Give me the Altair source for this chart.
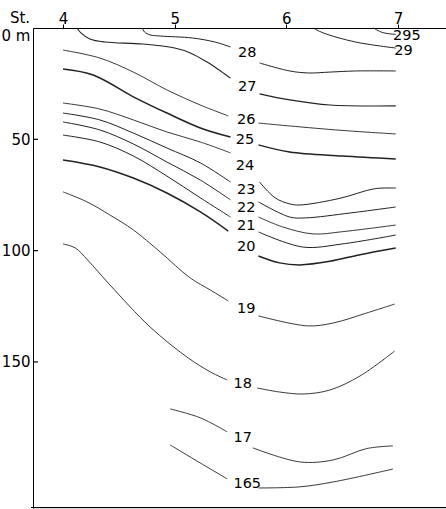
import altair as alt
import pandas as pd

# Station positions (top axis) and depth ticks (m)
stations = [4, 5, 6, 7]
depth_ticks = [0, 50, 100, 150]
inner_ticks = [50, 100, 150]

# Isotherm segments as (station, depth[m])
c295 = [(6.78, 0), (6.86, 2.0), (6.98, 2.9)]
c29 = [(6.24, 0), (6.33, 2.2), (6.62, 6.3), (6.98, 9.0)]
c28a = [(4.71, 0), (4.73, 1.8), (4.78, 3.1), (4.87, 3.6), (5.16, 4.5), (5.36, 6.3), (5.50, 8.5)]
c28b = [(5.76, 15.7), (6.03, 19.3), (6.20, 20.2), (6.39, 19.8), (6.62, 19.3), (6.98, 19.3)]
c27a = [(4.125, 0), (4.16, 2.2), (4.24, 4.9), (4.375, 6.3), (4.715, 7.2), (5.0, 9.0),
        (5.14, 11.2), (5.29, 15.3), (5.41, 19.3), (5.50, 22.5)]
c27b = [(5.76, 29.6), (6.03, 32.3), (6.39, 34.6), (6.98, 35.0)]
c26a = [(4.0, 9.9), (4.33, 13.5), (4.63, 19.8), (4.93, 27.8), (5.23, 34.6), (5.48, 39.5)]
c26b = [(5.75, 42.7), (6.03, 44.0), (6.5, 46.0), (6.98, 47.6)]
c25a = [(4.0, 18.4), (4.27, 21.1), (4.63, 30.9), (4.93, 38.2), (5.23, 44.9), (5.50, 49.0)]
c25b = [(5.75, 52.5), (6.03, 55.7), (6.5, 57.5), (6.98, 58.8)]
c24a = [(4.0, 33.7), (4.33, 36.4), (4.63, 41.3), (4.93, 46.7), (5.23, 51.2), (5.50, 56.1)]
c24b = [(5.76, 69.2), (5.90, 76.3), (6.03, 79.0), (6.12, 79.5), (6.48, 76.5), (6.79, 72.2), (6.98, 71.9)]
c23a = [(4.0, 38.2), (4.33, 41.3), (4.63, 47.2), (4.93, 53.9), (5.23, 60.6), (5.50, 69.2)]
c23b = [(5.75, 78.1), (6.03, 84.9), (6.17, 85.3), (6.57, 83.1), (6.98, 80.4)]
c22a = [(4.0, 42.2), (4.33, 45.8), (4.63, 52.1), (4.93, 60.2), (5.23, 68.3), (5.50, 77.2)]
c22b = [(5.75, 84.9), (5.97, 89.4), (6.24, 92.5), (6.5, 91.5), (6.98, 88.5)]
c21a = [(4.0, 48.1), (4.33, 51.2), (4.63, 57.5), (4.93, 66.5), (5.23, 76.3), (5.50, 84.9)]
c21b = [(5.75, 91.6), (6.15, 98.4), (6.5, 97.0), (6.98, 93.0)]
c20a = [(4.0, 59.3), (4.33, 62.4), (4.63, 67.4), (4.93, 74.1), (5.23, 82.6), (5.48, 91.2)]
c20b = [(5.75, 102.4), (5.94, 105.5), (6.12, 106.4), (6.39, 104.8), (6.66, 101.8), (6.98, 98.8)]
c19a = [(4.0, 73.6), (4.215, 78.1), (4.42, 84.0), (4.63, 90.7), (4.87, 100.6), (5.14, 112.3),
        (5.32, 117.7), (5.48, 122.6)]
c19b = [(5.75, 129.3), (6.19, 133.8), (6.42, 132.5), (6.72, 128.0), (6.97, 124.0)]
c18a = [(4.0, 97.0), (4.11, 98.8), (4.22, 104.2), (4.42, 115.4), (4.78, 134.3), (5.11, 147.8),
        (5.32, 154.5), (5.47, 158.1)]
c18b = [(5.74, 161.7), (5.94, 163.5), (6.15, 164.4), (6.39, 162.6), (6.66, 156.3), (6.97, 145.1)]
c17a = [(4.96, 171.1), (5.23, 175.1), (5.47, 181.4)]
c17b = [(5.70, 188.6), (6.12, 194.9), (6.42, 194.0), (6.72, 188.9), (6.955, 187.7)]
c165a = [(4.96, 187.3), (5.23, 195.4), (5.47, 202.5)]
c165b = [(5.75, 206.6), (6.12, 206.1), (6.42, 203.9), (6.955, 198.1)]

segments = [
    ("295", c295, 1.0), ("29", c29, 1.0), ("28a", c28a, 1.0), ("28b", c28b, 1.0),
    ("27a", c27a, 1.1), ("27b", c27b, 1.1), ("26a", c26a, 0.9), ("26b", c26b, 0.9),
    ("25a", c25a, 1.5), ("25b", c25b, 1.5), ("24a", c24a, 0.9), ("24b", c24b, 1.0),
    ("23a", c23a, 1.0), ("23b", c23b, 1.0), ("22a", c22a, 1.0), ("22b", c22b, 0.9),
    ("21a", c21a, 1.0), ("21b", c21b, 1.0), ("20a", c20a, 1.5), ("20b", c20b, 1.5),
    ("19a", c19a, 0.9), ("19b", c19b, 0.9), ("18a", c18a, 0.9), ("18b", c18b, 0.9),
    ("17a", c17a, 0.9), ("17b", c17b, 0.9), ("165a", c165a, 0.9), ("165b", c165b, 0.9),
]

# Contour labels
label_text = ["295", "29", "28", "27", "26", "25", "24", "23", "22", "21", "20", "19", "18", "17", "165"]
label_st = [7.08, 7.05, 5.65, 5.65, 5.64, 5.63, 5.63, 5.64, 5.64, 5.64, 5.64, 5.64, 5.61, 5.61, 5.65]
label_d = [3.6, 10.3, 11.2, 26.5, 41.3, 50.3, 62.0, 72.8, 80.8, 88.9, 98.4, 126.2, 159.9, 184.1, 204.8]

rows = []
for name, pts, w in segments:
    for i, (s, d) in enumerate(pts):
        rows.append({"seg": name, "i": i, "st": s, "d": d, "w": w})
lines_df = pd.DataFrame(rows)
labels_df = pd.DataFrame({"t": label_text, "st": label_st, "d": label_d})
ticks_df = pd.DataFrame({"d": inner_ticks})

FONT = "DejaVu Sans"

xs = alt.Scale(domain=[3.731, 7.43], nice=False, zero=False)
ys = alt.Scale(domain=[0, 215.6], nice=False, zero=False, reverse=True)

x_axis = alt.Axis(
    orient="top", values=stations, tickSize=4, labelPadding=-2, title=None, grid=False,
    domainColor="black", tickColor="black", labelColor="black", labelFont=FONT,
    labelFontSize=15, labelAngle=0, format="d")
y_axis = alt.Axis(
    orient="left", values=depth_ticks, ticks=False, labelPadding=3, title=None, grid=False,
    domainColor="black", labelColor="black", labelFont=FONT, labelFontSize=15,
    labelFlush=True, labelExpr="datum.value == 0 ? '0 m' : datum.label")

X = alt.X("st:Q", scale=xs, axis=x_axis)
Y = alt.Y("d:Q", scale=ys, axis=y_axis)

lines = alt.Chart(lines_df).mark_line(interpolate="catmull-rom", color="#222").encode(
    x=X, y=Y,
    detail="seg:N",
    order="i:Q",
    strokeWidth=alt.StrokeWidth("w:Q", scale=None),
)

labels = alt.Chart(labels_df).mark_text(
    font=FONT, fontSize=14.5, color="black", align="center", baseline="middle"
).encode(x=X, y=Y, text="t:N")

inward = alt.Chart(ticks_df).mark_rule(color="black", strokeWidth=1.2).encode(
    y=Y,
    x=alt.value(0),
    x2=alt.value(5),
)

bottom = alt.Chart(pd.DataFrame({"a": [0]})).mark_rule(color="black", strokeWidth=1.2).encode(
    x=alt.value(-2), x2=alt.value(413), y=alt.value(479.5)
)

st_label = alt.Chart(pd.DataFrame({"t": ["St."]})).mark_text(
    font=FONT, fontSize=15, color="black", align="center", baseline="middle"
).encode(x=alt.value(-13), y=alt.value(-10), text="t:N")

chart = alt.layer(lines, labels, inward, bottom, st_label).properties(
    width=413, height=480,
    padding={"left": 33, "top": 28, "right": 0, "bottom": 1},
    autosize="none",
).configure_view(stroke=None).configure(background="white")

chart.save("out.html", embed_options={"renderer": "svg", "actions": False})
